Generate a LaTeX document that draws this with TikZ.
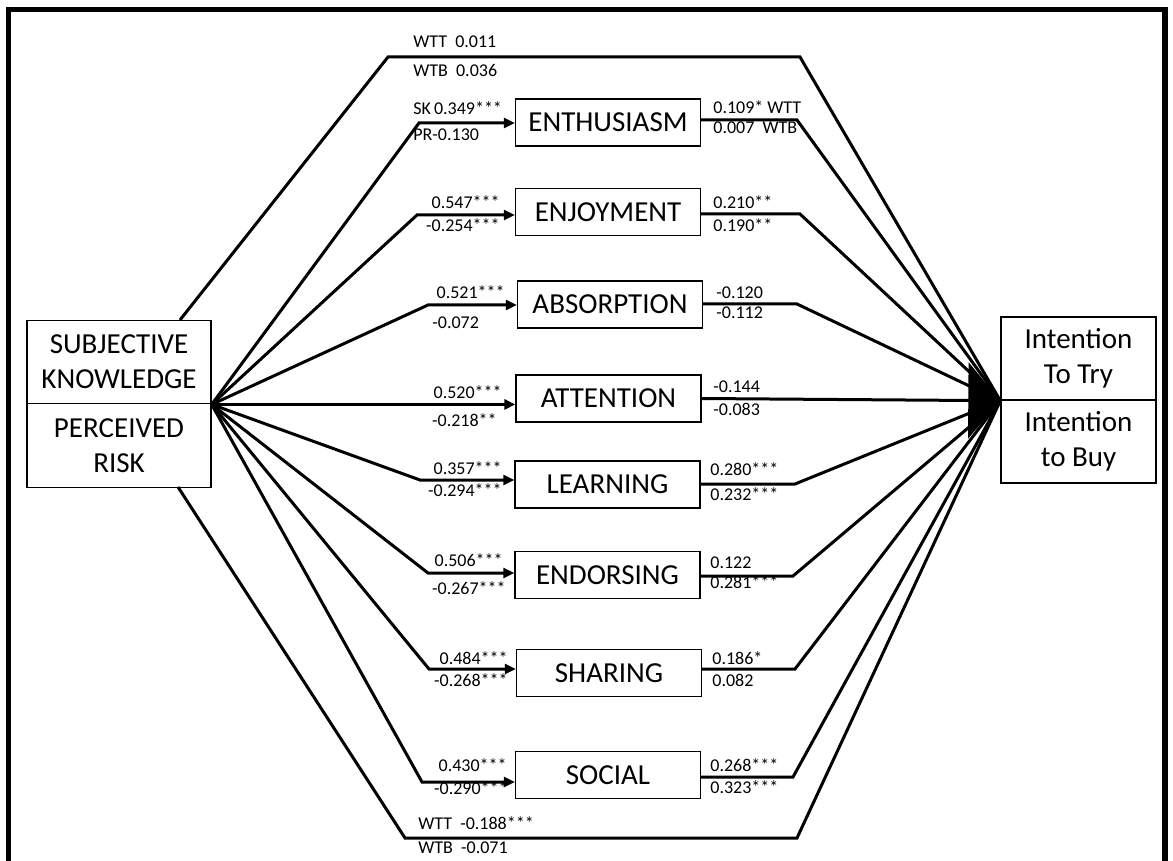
\documentclass[tikz,border=0pt]{standalone}
\usepackage{fontspec}
\setmainfont{Carlito}
\usetikzlibrary{arrows.meta}
\begin{document}
\begin{tikzpicture}[x=0.5pt,y=-0.5pt,
  box/.style={draw, line width=0.7pt, inner sep=0pt, align=center,
    font=\fontsize{14.5}{17.5}\selectfont},
  midbox/.style={box, minimum width=92.5pt, minimum height=23.5pt},
  sidebox/.style={box, minimum width=92pt, minimum height=41.75pt},
  outbox/.style={box, minimum width=77.5pt, minimum height=41.5pt},
  link/.style={line width=1.5pt, line join=miter},
  into/.style={link, -{Triangle[length=5.5pt,width=5pt]}},
  bigtip/.style={link, -{Triangle[length=16pt,width=38pt]}},
  coef/.style={font=\fontsize{9}{10}\selectfont, inner sep=0pt},
  lcoef/.style={coef, anchor=east},
  rcoef/.style={coef, anchor=west},
]
\useasboundingbox (0,0) rectangle (1173,861);

% open frame
\draw[line width=2.6pt] (8.5,880) -- (8.5,9.5) -- (1165,9.5) -- (1165,880);

% exogenous constructs
\node[sidebox] (sk) at (119,362) {SUBJECTIVE\\KNOWLEDGE};
\node[sidebox] (pr) at (119,445.5) {PERCEIVED\\RISK};
% outcome constructs
\node[outbox] (itt) at (1078.5,358.5) {Intention\\To Try};
\node[outbox] (itb) at (1078.5,441.5) {Intention\\to Buy};

\coordinate (hub) at (sk.south east);
\coordinate (tip) at (itt.south west);

% mediators
\node[midbox] (enth)   at (608,122.5) {ENTHUSIASM};
\node[midbox] (enjoy)  at (608,212)   {ENJOYMENT};
\node[midbox] (absorb) at (610,304.5) {ABSORPTION};
\node[midbox] (atten)  at (608.5,398.5) {ATTENTION};
\node[midbox] (learn)  at (607.5,484.5) {LEARNING};
\node[midbox] (endors) at (607.5,575) {ENDORSING};
\node[midbox] (share)  at (609,673)   {SHARING};
\node[midbox] (social) at (608,775)   {SOCIAL};

% bends of the paths
\coordinate (t0) at (180,320);
\coordinate (t1) at (388,57);
\coordinate (t2) at (800,57);
\coordinate (d0) at (178,487);
\coordinate (d1) at (405,838);
\coordinate (d2) at (797,838);

\coordinate (la1) at (419,123);  \coordinate (ra1) at (797,120);
\coordinate (la2) at (417,215);  \coordinate (ra2) at (800,214);
\coordinate (la3) at (428,305);  \coordinate (ra3) at (797,304);
\coordinate (la5) at (420,480);  \coordinate (ra5) at (795,484);
\coordinate (la6) at (428,573);  \coordinate (ra6) at (793,576);
\coordinate (la7) at (429,669);  \coordinate (ra7) at (795,669);
\coordinate (la8) at (422,782);  \coordinate (ra8) at (793,777);

% direct effects
\draw[link] (t0) -- (t1) -- (t2) -- (tip);
\draw[link] (d0) -- (d1) -- (d2) -- (tip);

% paths into the mediators
\draw[into] (hub) -- (la1) -- (la1 -| enth.west);
\draw[into] (hub) -- (la2) -- (la2 -| enjoy.west);
\draw[into] (hub) -- (la3) -- (la3 -| absorb.west);
\draw[into] (hub) -- (hub -| atten.west);
\draw[into] (hub) -- (la5) -- (la5 -| learn.west);
\draw[into] (hub) -- (la6) -- (la6 -| endors.west);
\draw[into] (hub) -- (la7) -- (la7 -| share.west);
\draw[into] (hub) -- (la8) -- (la8 -| social.west);

% paths out of the mediators
\draw[link] (ra1 -| enth.east) -- (ra1) -- (tip);
\draw[link] (ra2 -| enjoy.east) -- (ra2) -- (tip);
\draw[link] (ra3 -| absorb.east) -- (ra3) -- (tip);
\draw[link] (ra5 -| learn.east) -- (ra5) -- (tip);
\draw[link] (ra6 -| endors.east) -- (ra6) -- (tip);
\draw[link] (ra7 -| share.east) -- (ra7) -- (tip);
\draw[link] (ra8 -| social.east) -- (ra8) -- (tip);
\draw[bigtip] (atten.east) -- (tip);

% coefficients of the direct effects
\node[rcoef] (ct1) at (413,42) {WTT\ \ 0.011};
\node[rcoef] (ct2) at (413,70) {WTB\ \ 0.036};
\node[rcoef] (cb1) at (418,823) {WTT\ \ -0.188***};
\node[rcoef] (cb2) at (418,848) {WTB\ \ -0.071};

% coefficients on the paths into the mediators
\node[rcoef] (a1a) at (413,108) {SK\,0.349***};
\node[rcoef] (a1b) at (413,135) {PR-0.130};
\node[lcoef] (a2a) at (500,202) {0.547***};
\node[lcoef] (a2b) at (500,225) {-0.254***};
\node[lcoef] (a3a) at (505,292) {0.521***};
\node[rcoef] (a3b) at (432,323) {-0.072};
\node[lcoef] (a4a) at (502,392) {0.520***};
\node[lcoef] (a4b) at (497,420) {-0.218**};
\node[lcoef] (a5a) at (502,468) {0.357***};
\node[lcoef] (a5b) at (502,490) {-0.294***};
\node[lcoef] (a6a) at (503,560) {0.506***};
\node[lcoef] (a6b) at (506,588) {-0.267***};
\node[lcoef] (a7a) at (508,658) {0.484***};
\node[lcoef] (a7b) at (508,680) {-0.268***};
\node[lcoef] (a8a) at (507,765) {0.430***};
\node[lcoef] (a8b) at (508,788) {-0.290***};

% coefficients on the paths out of the mediators
\node[rcoef] (b1a) at (713,107) {0.109* WTT};
\node[rcoef] (b1b) at (713,128) {0.007\ \ WTB};
\node[rcoef] (b2a) at (713,202) {0.210**};
\node[rcoef] (b2b) at (713,225) {0.190**};
\node[rcoef] (b3a) at (716,293) {-0.120};
\node[rcoef] (b3b) at (716,313) {-0.112};
\node[rcoef] (b4a) at (713,387) {-0.144};
\node[rcoef] (b4b) at (713,409) {-0.083};
\node[rcoef] (b5a) at (710,469) {0.280***};
\node[rcoef] (b5b) at (710,494) {0.232***};
\node[rcoef] (b6a) at (710,563) {0.122};
\node[rcoef] (b6b) at (710,582) {0.281***};
\node[rcoef] (b7a) at (712,658) {0.186*};
\node[rcoef] (b7b) at (712,680) {0.082};
\node[rcoef] (b8a) at (710,765) {0.268***};
\node[rcoef] (b8b) at (710,787) {0.323***};
\end{tikzpicture}
\end{document}
